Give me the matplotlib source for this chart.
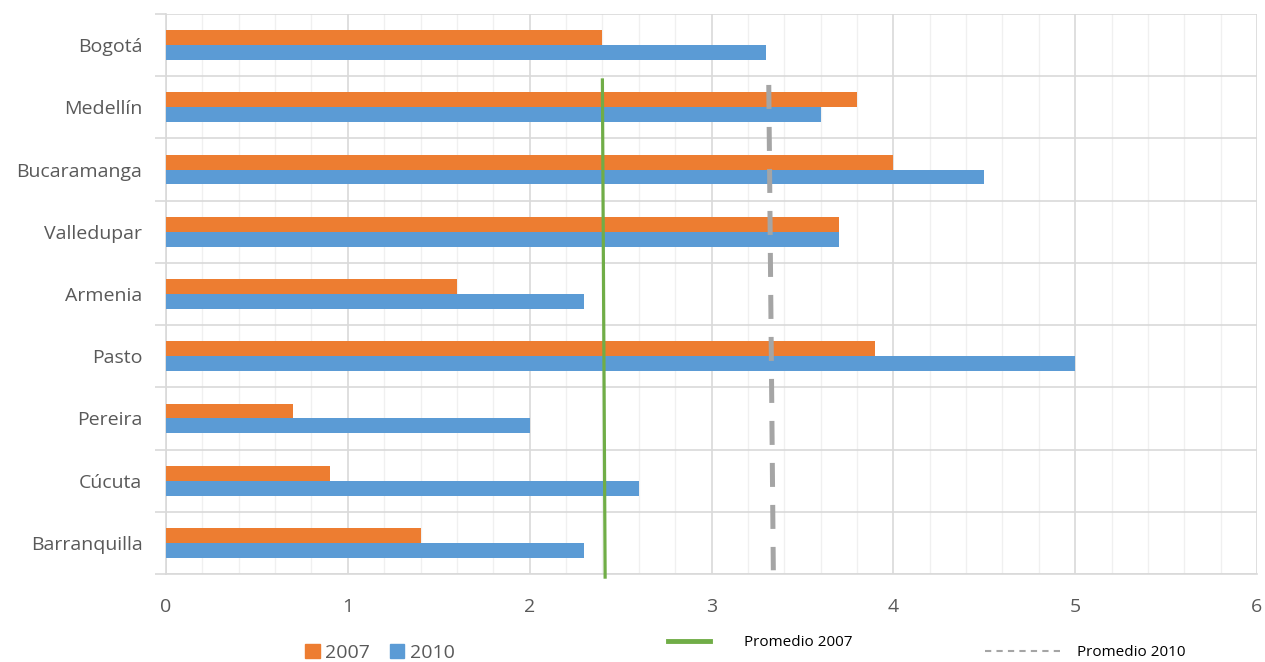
import numpy as np
import matplotlib.pyplot as plt
from matplotlib.lines import Line2D
from matplotlib.patches import Patch

plt.rcParams['font.family'] = ['Open Sans', 'DejaVu Sans']

ciudades = ['Bogotá', 'Medellín', 'Bucaramanga', 'Valledupar', 'Armenia',
            'Pasto', 'Pereira', 'Cúcuta', 'Barranquilla']
v2007 = [2.4, 3.8, 4.0, 3.7, 1.6, 3.9, 0.7, 0.9, 1.4]
v2010 = [3.3, 3.6, 4.5, 3.7, 2.3, 5.0, 2.0, 2.6, 2.3]
# average lines as drawn (slightly slanted in the original)
prom2007_x = [2.40, 2.415]
prom2007_y = [0.56, 8.55]
prom2010_x = [3.315, 3.34]
prom2010_y = [0.64, 8.44]

naranja = '#ED7D31'
azul = '#5B9BD5'
gris_txt = '#595959'

fig = plt.figure(figsize=(12.65, 6.62), dpi=100)
ax = fig.add_axes([166/1265, 88/662, 1091/1265, 560/662])

y = np.arange(len(ciudades))
h = 0.24
ax.barh(y - h/2, v2007, height=h, color=naranja, label='2007', zorder=3)
ax.barh(y + h/2, v2010, height=h, color=azul, label='2010', zorder=3)

ax.plot(prom2007_x, prom2007_y, color='#70AD47', lw=2.3, zorder=4, clip_on=False)
ax.plot(prom2010_x, prom2010_y, color='#A5A5A5', lw=3.6, dashes=(4.8, 3.6),
        zorder=4, clip_on=False)

ax.set_xlim(0, 6)
ax.set_ylim(len(ciudades) - 0.5, -0.5)
ax.set_xticks(range(7))
ax.set_xticks(np.arange(0, 6.01, 0.2), minor=True)
ax.set_yticks(y)
ax.set_yticklabels(ciudades)
ax.set_yticks(np.arange(-0.5, len(ciudades)), minor=True)

ax.grid(axis='x', which='major', color='#D9D9D9', lw=1.2, zorder=0)
ax.grid(axis='x', which='minor', color='#F0F0F0', lw=1.0, zorder=0)
ax.grid(axis='y', which='minor', color='#D9D9D9', lw=1.2, zorder=0)

for s in ['top', 'right']:
    ax.spines[s].set_visible(False)
ax.spines['left'].set_color('#D9D9D9')
ax.spines['left'].set_linewidth(1.2)
ax.spines['bottom'].set_color('#D9D9D9')
ax.spines['bottom'].set_linewidth(1.2)

ax.tick_params(axis='x', which='both', length=0, pad=17, labelsize=14, labelcolor=gris_txt)
ax.tick_params(axis='y', which='major', length=0, pad=17, labelsize=14, labelcolor=gris_txt)
ax.tick_params(axis='y', which='minor', length=8, width=1.2, color='#D9D9D9')

fig.legend(handles=[Patch(color=naranja, label='2007'), Patch(color=azul, label='2010')],
           loc='center', bbox_to_anchor=(380/1265, 1 - 653/662), ncol=2, frameon=False,
           fontsize=14, labelcolor=gris_txt, handlelength=0.75, handleheight=0.75,
           handletextpad=0.3, columnspacing=1.0)
fig.legend(handles=[Line2D([], [], color='#70AD47', lw=3.5, label='Promedio 2007')],
           loc='center', bbox_to_anchor=(760/1265, 1 - 643/662), frameon=False,
           fontsize=11, handlelength=2.8, handletextpad=2.2)
fig.legend(handles=[Line2D([], [], color='#A5A5A5', lw=1.5, dashes=(3, 2.5), label='Promedio 2010')],
           loc='center', bbox_to_anchor=(1085/1265, 1 - 653/662), frameon=False,
           fontsize=11, handlelength=5.0, handletextpad=1.0)

fig.savefig('out.png', dpi=100)
